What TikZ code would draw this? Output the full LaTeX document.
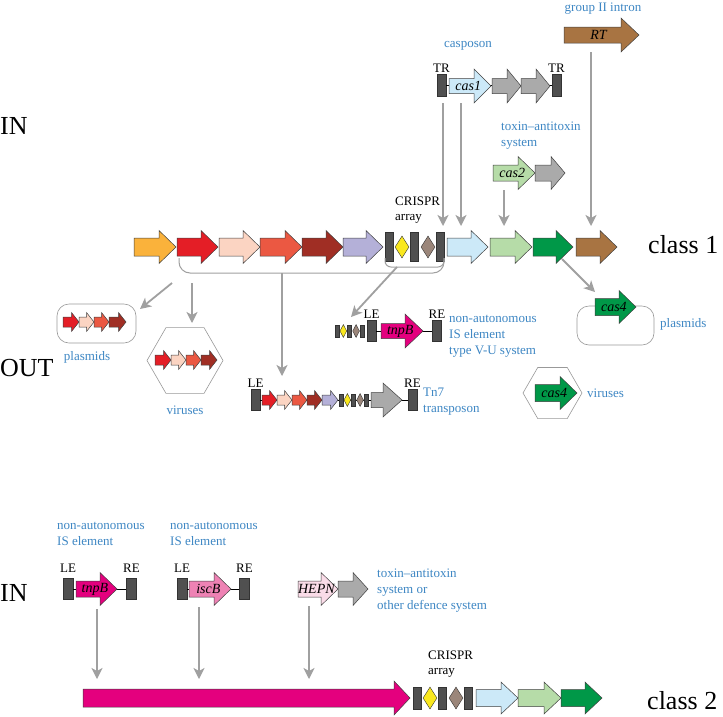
\documentclass[tikz,border=0pt]{standalone}
\usepackage{fontspec}
\setmainfont{Liberation Serif}
\usetikzlibrary{shapes.geometric,arrows.meta}

\definecolor{orangeg}{RGB}{250,178,59}
\definecolor{redg}{RGB}{228,30,38}
\definecolor{peachg}{RGB}{251,212,194}
\definecolor{salmong}{RGB}{235,88,66}
\definecolor{darkredg}{RGB}{160,46,36}
\definecolor{lavenderg}{RGB}{180,176,216}
\definecolor{repeatg}{RGB}{80,80,80}
\definecolor{yellowg}{RGB}{250,232,30}
\definecolor{taupeg}{RGB}{155,134,122}
\definecolor{lightblueg}{RGB}{204,233,248}
\definecolor{lightgreeng}{RGB}{182,220,168}
\definecolor{greeng}{RGB}{0,152,72}
\definecolor{browng}{RGB}{168,116,66}
\definecolor{grayg}{RGB}{170,170,170}
\definecolor{magentag}{RGB}{228,0,126}
\definecolor{pinkg}{RGB}{238,130,180}
\definecolor{palepinkg}{RGB}{250,220,232}
\definecolor{linkg}{RGB}{160,160,160}
\definecolor{notes}{RGB}{62,135,196}

% gene arrow: name, start x, end x, y, fill, text
\newcommand{\gene}[6]{%
  \draw[gene, fill=#5] (#2,#4-\bw) -- (#3-\hl,#4-\bw) -- (#3-\hl,#4-\hw) -- (#3,#4)
    -- (#3-\hl,#4+\hw) -- (#3-\hl,#4+\bw) -- (#2,#4+\bw) -- cycle;
  \node[genename] (#1) at ({#2+0.46*(#3-#2)},#4) {#6};
}
% CRISPR array: prefix, left x, y, scale, repeat height, spacer height
\newcommand{\crispr}[6]{%
  \node[rep, minimum width=8*#4, minimum height=#5] (#1a) at ({#2+4*#4},#3) {};
  \node[spacer, fill=yellowg, minimum width=14*#4, minimum height=#6] (#1b) at ({#2+17*#4},#3) {};
  \node[rep, minimum width=8*#4, minimum height=#5] (#1c) at ({#2+29.5*#4},#3) {};
  \node[spacer, fill=taupeg, minimum width=14*#4, minimum height=#6] (#1d) at ({#2+43*#4},#3) {};
  \node[rep, minimum width=8*#4, minimum height=#5] (#1e) at ({#2+55.5*#4},#3) {};
}

\begin{document}
\begin{tikzpicture}[x=1pt, y=-1pt,
    gene/.style={draw=black!75, line width=0.5pt},
    genename/.style={font=\fontsize{14}{16}\selectfont\itshape, inner sep=0pt},
    rep/.style={draw=black!80, fill=repeatg, line width=0.4pt, inner sep=0pt},
    spacer/.style={diamond, draw=black!80, line width=0.4pt, inner sep=0pt},
    bone/.style={line width=0.6pt},
    brk/.style={draw=linkg, line width=1pt},
    link/.style={draw=linkg, line width=1.8pt, -{Stealth[length=11pt, width=11pt, inset=3pt]}},
    hull/.style={draw=black!40, line width=0.6pt, inner sep=0pt},
    note/.style={text=notes, font=\fontsize{13}{16}\selectfont, align=left, inner sep=0pt},
    tag/.style={font=\fontsize{13}{15}\selectfont, inner sep=0pt},
    big/.style={font=\fontsize{26}{30}\selectfont, inner sep=0pt},
    every label/.style={font=\fontsize{13}{15}\selectfont, inner sep=1.5pt}]

  \fill[white] (0,0) rectangle (723,716);
  \useasboundingbox (0,0) rectangle (723,716);

  % side labels
  \node[big, anchor=west] (inTop) at (0,126) {IN};
  \node[big, anchor=west] (out) at (0,368) {OUT};
  \node[big, anchor=west] (inBot) at (0,593) {IN};
  \node[big, anchor=west] (cls1) at (648,245) {class 1};
  \node[big, anchor=west] (cls2) at (647,701) {class 2};

  % class 1 locus
  \def\bw{9}\def\hw{16.5}\def\hl{17}
  \foreach \name/\xa/\xb/\col in {
      orfA/134/176/orangeg,
      orfB/177/218/redg,
      orfC/219/260/peachg,
      orfD/260/302/salmong,
      orfE/302/343/darkredg,
      orfF/343/383/lavenderg,
      orfG/447/488/lightblueg,
      orfH/490/532/lightgreeng,
      orfI/533/573/greeng,
      orfJ/576/617/browng} {
      \gene{\name}{\xa}{\xb}{247}{\col}{}
    }
  \crispr{arrA}{385}{247}{1}{29}{22}
  \node[tag, align=left, anchor=west] (crLabA) at (395,210) {CRISPR\\array};

  % brackets under class 1
  \draw[brk, rounded corners=11pt] (179,258) -- (179,273) -- (444,273) -- (444,258);
  \draw[brk, rounded corners=6pt] (385,258) -- (385,267) -- (444,267) -- (444,258);

  % casposon
  \node[rep, minimum width=9, minimum height=22, label=above:TR] (trL) at (441.5,85) {};
  \node[rep, minimum width=9, minimum height=22, label=above:TR] (trR) at (556.5,85) {};
  \draw[bone] (trL.east) -- (trR.west);
  \def\bw{7.5}\def\hw{17}\def\hl{17}
  \gene{cas1}{449}{491}{86}{lightblueg}{cas1}
  \def\hl{14}
  \gene{cpA}{492}{521}{86}{grayg}{}
  \gene{cpB}{521}{550}{86}{grayg}{}
  \node[note] (casposon) at (468,46) {casposon};

  % toxin-antitoxin and group II intron
  \def\bw{8}\def\hw{16.5}\def\hl{17}
  \gene{cas2}{493}{535}{173}{lightgreeng}{cas2}
  \def\hl{14}
  \gene{atA}{535}{565}{173}{grayg}{}
  \node[note, anchor=west] (taTop) at (501,136) {toxin--antitoxin\\system};
  \def\bw{8}\def\hw{17}\def\hl{18}
  \gene{rt}{564}{639}{35}{browng}{RT}
  \node[note] (intron) at (603,9) {group II intron};

  % type V-U with tnpB
  \crispr{arrV}{335}{331}{0.49}{12}{13}
  \node[rep, minimum width=9, minimum height=21, label=above:LE] (leV) at (371.5,331) {};
  \node[rep, minimum width=9, minimum height=21, label=above:RE] (reV) at (437,331) {};
  \draw[bone] (leV.east) -- (reV.west);
  \def\bw{7.5}\def\hw{17}\def\hl{18}
  \gene{tnpV}{381}{423}{331}{magentag}{tnpB}
  \node[note, anchor=west] (vu) at (449,336) {non-autonomous\\IS element\\type V-U system};

  % Tn7
  \node[rep, minimum width=9, minimum height=21, label=above:LE] (leT) at (255.5,400) {};
  \node[rep, minimum width=9, minimum height=21, label=above:RE] (reT) at (412.5,400) {};
  \draw[bone] (leT.east) -- (reT.west);
  \def\bw{5}\def\hw{9.5}\def\hl{7.5}
  \foreach \name/\xa/\xb/\col in {
      tnA/262/277/redg,
      tnB/277/292/peachg,
      tnC/292/307/salmong,
      tnD/307/322/darkredg,
      tnE/322/338/lavenderg} {
      \gene{\name}{\xa}{\xb}{400}{\col}{}
    }
  \crispr{arrT}{339}{400}{0.49}{12}{13}
  \def\bw{7.5}\def\hw{17}\def\hl{19}
  \gene{tnF}{371}{402}{400}{grayg}{}
  \node[note, anchor=west] (tn7) at (423,402) {Tn7\\transposon};

  % plasmids and viruses, left
  \node[hull, rounded corners=12pt, minimum width=79, minimum height=39] (plasBoxL) at (96.5,323.5) {};
  \node[hull, regular polygon, regular polygon sides=6, minimum size=76] (virHexL) at (185,360.5) {};
  \def\bw{5}\def\hw{9.5}\def\hl{7.5}
  \foreach \name/\xa/\xb/\col/\y in {
      plA/63/79/redg/322, plB/79/94/peachg/322, plC/94/109/salmong/322, plD/109/126/darkredg/322,
      vrA/155/171/redg/360, vrB/171/186/peachg/360, vrC/186/201/salmong/360, vrD/201/217/darkredg/360} {
      \gene{\name}{\xa}{\xb}{\y}{\col}{}
    }
  \node[note] (plasL) at (87,357) {plasmids};
  \node[note] (virL) at (185,410) {viruses};

  % plasmids and viruses, right
  \node[hull, rounded corners=12pt, minimum width=77, minimum height=39] (plasBoxR) at (615.5,325.5) {};
  \node[hull, regular polygon, regular polygon sides=6, minimum size=59] (virHexR) at (552.5,393) {};
  \def\bw{8.5}\def\hw{16.5}\def\hl{17}
  \gene{cas4p}{595}{636}{307}{greeng}{cas4}
  \gene{cas4v}{535}{577}{393}{greeng}{cas4}
  \node[note, anchor=west] (plasR) at (660,324) {plasmids};
  \node[note, anchor=west] (virR) at (587,393) {viruses};

  % class 2 donors
  \node[rep, minimum width=10, minimum height=21, label={[label distance=4pt]above:LE}] (leA) at (68,589) {};
  \node[rep, minimum width=10, minimum height=21, label={[label distance=4pt]above:RE}] (reA) at (131.5,589) {};
  \node[rep, minimum width=10, minimum height=21, label={[label distance=4pt]above:LE}] (leB) at (182,589) {};
  \node[rep, minimum width=10, minimum height=21, label={[label distance=4pt]above:RE}] (reB) at (244.5,589) {};
  \draw[bone] (leA.east) -- (reA.west);
  \draw[bone] (leB.east) -- (reB.west);
  \def\bw{8}\def\hw{16.5}\def\hl{17}
  \gene{tnpI}{76}{117}{589}{magentag}{tnpB}
  \gene{iscB}{189}{231}{589}{pinkg}{iscB}
  \gene{hepn}{298}{338}{589}{palepinkg}{HEPN}
  \def\hl{15}
  \gene{atB}{338}{368}{589}{grayg}{}
  \node[note, anchor=west] (isA) at (57,534) {non-autonomous\\IS element};
  \node[note, anchor=west] (isB) at (170,534) {non-autonomous\\IS element};
  \node[note, anchor=west] (taBot) at (377,591) {toxin--antitoxin\\system or\\other defence system};

  % class 2 locus
  \def\bw{9}\def\hw{17}\def\hl{16}
  \gene{effector}{83}{410}{698}{magentag}{}
  \crispr{arrB}{413}{698}{1}{22}{22}
  \def\bw{8.5}\def\hw{16}\def\hl{17}
  \foreach \name/\xa/\xb/\col in {
      adA/476/518/lightblueg,
      adB/518/561/lightgreeng,
      adC/561/602/greeng} {
      \gene{\name}{\xa}{\xb}{698}{\col}{}
    }
  \node[tag, align=left, anchor=west] (crLabB) at (428,664) {CRISPR\\array};

  % gray connectors
  \coordinate (rtS) at (591,52);   \coordinate (rtE) at (591,226);
  \coordinate (trS) at (443,103);  \coordinate (trE) at (443,226);
  \coordinate (c1S) at (461,103);  \coordinate (c1E) at (461,226);
  \coordinate (c2S) at (504,190);  \coordinate (c2E) at (504,226);
  \coordinate (c4S) at (562,259);  \coordinate (c4E) at (595,292);
  \coordinate (vuS) at (397,267);  \coordinate (vuE) at (351,317);
  \coordinate (tnS) at (282,273);  \coordinate (tnE) at (282,376);
  \coordinate (plS) at (172,283);  \coordinate (plE) at (140,309);
  \coordinate (vrS) at (192,283);  \coordinate (vrE) at (192,323);
  \coordinate (isS) at (97,609);   \coordinate (isE) at (97,679);
  \coordinate (icS) at (199,607);  \coordinate (icE) at (199,679);
  \coordinate (heS) at (309,606);  \coordinate (heE) at (309,679);
  \foreach \a/\b in {rtS/rtE, trS/trE, c1S/c1E, c2S/c2E, c4S/c4E, vuS/vuE,
      tnS/tnE, plS/plE, vrS/vrE, isS/isE, icS/icE, heS/heE} {
      \draw[link] (\a) -- (\b);
    }

\end{tikzpicture}
\end{document}
